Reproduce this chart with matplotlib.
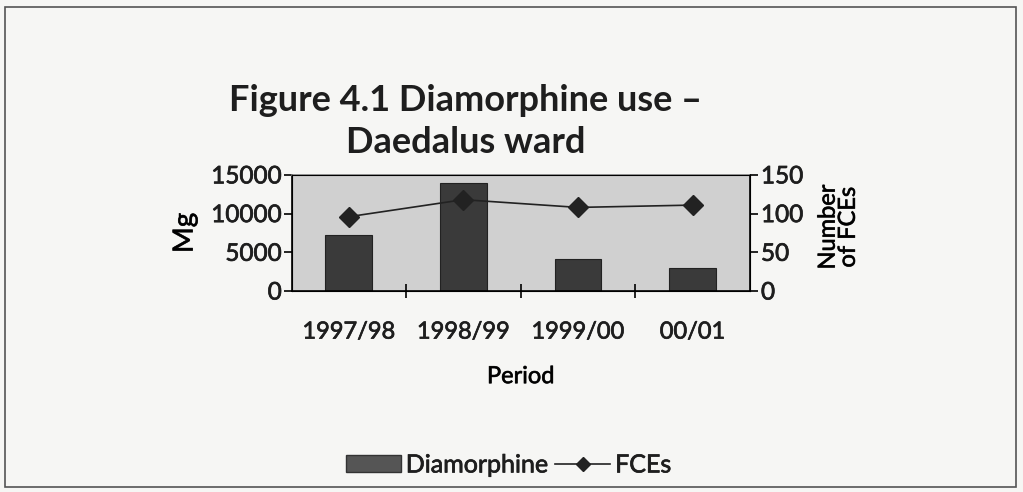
import matplotlib
matplotlib.use('Agg')
import matplotlib.pyplot as plt
import matplotlib.patheffects as pe
from matplotlib.patches import Rectangle
from matplotlib.lines import Line2D
import numpy as np

periods = ['1997/98', '1998/99', '1999/00', '00/01']
diamorphine = [7300, 14000, 4100, 3000]
fces = [96, 118, 108, 111]

plt.rcParams['font.family'] = ['Lato', 'DejaVu Sans']
plt.rcParams['text.color'] = '#1e1e1e'
# thicken regular text a bit to imitate the semibold scan font
heavy = [pe.withStroke(linewidth=0.5, foreground='#1e1e1e')]

fig = plt.figure(figsize=(10.23, 4.92), dpi=100, facecolor='#f6f6f4')
fig.patches.append(Rectangle((0.005, 0.01), 0.988, 0.975, transform=fig.transFigure,
                             fill=False, edgecolor='#555555', lw=1.2))

ax = fig.add_axes([0.285, 0.4085, 0.448, 0.236])
ax.set_facecolor('#d0d0d0')
x = np.arange(len(periods))
bars = ax.bar(x, diamorphine, width=0.41, color='#3a3a3a', edgecolor='#222222', lw=0.8)
ax.set_xlim(-0.5, len(periods) - 0.5)
ax.set_ylim(0, 15000)
ax.set_yticks([0, 5000, 10000, 15000])
ax.set_xticks(x)
ax.set_xticklabels(periods, fontsize=17)
ax.set_xticks(np.arange(0.5, len(periods) - 1, 1), minor=True)
ax.tick_params(axis='x', which='major', length=0, pad=22, labelcolor='#1e1e1e')
ax.tick_params(axis='x', which='minor', length=10, direction='inout', width=1.2)
ax.tick_params(axis='y', labelsize=17.5, length=6, direction='out', width=1.2, pad=1,
               labelcolor='#1e1e1e')
ax.set_ylabel('Mg', fontsize=20)
ax.yaxis.set_label_coords(-0.205, 0.5)
ax.set_xlabel('Period', fontsize=17, labelpad=17)
for s in ax.spines.values():
    s.set_linewidth(1.2)
ax.spines['top'].set_color('#888888')

ax2 = ax.twinx()
ax2.plot(x, fces, color='#222222', lw=1.2, marker='D', markersize=10,
         markerfacecolor='#222222')
ax2.set_ylim(0, 150)
ax2.set_yticks([0, 50, 100, 150])
ax2.tick_params(axis='y', labelsize=17.5, length=6, direction='out', width=1.2, pad=2,
                labelcolor='#1e1e1e')
ax2.set_ylabel('Number\nof FCEs', fontsize=17, linespacing=0.95)
ax2.yaxis.set_label_coords(1.148, 0.55)

for t in ax.get_xticklabels() + ax.get_yticklabels() + ax2.get_yticklabels():
    t.set_path_effects(heavy)
for t in [ax.xaxis.label, ax.yaxis.label, ax2.yaxis.label]:
    t.set_path_effects(heavy)

fig.text(0.455, 0.753, 'Figure 4.1 Diamorphine use –\nDaedalus ward', ha='center', va='center',
         fontsize=26, fontweight='bold', linespacing=1.3)

handles = [Rectangle((0, 0), 1, 1, facecolor='#555555', edgecolor='#333333'),
           Line2D([], [], color='#222222', lw=1.2, marker='D', markersize=7)]
leg = fig.legend(handles, ['Diamorphine', 'FCEs'], loc='center', bbox_to_anchor=(0.497, 0.055),
                 ncol=2, frameon=False, prop={'size': 18},
                 handlelength=2.2, handletextpad=0.2, columnspacing=0.3)
for t in leg.get_texts():
    t.set_path_effects(heavy)

fig.savefig('out.png', dpi=100, facecolor=fig.get_facecolor())
